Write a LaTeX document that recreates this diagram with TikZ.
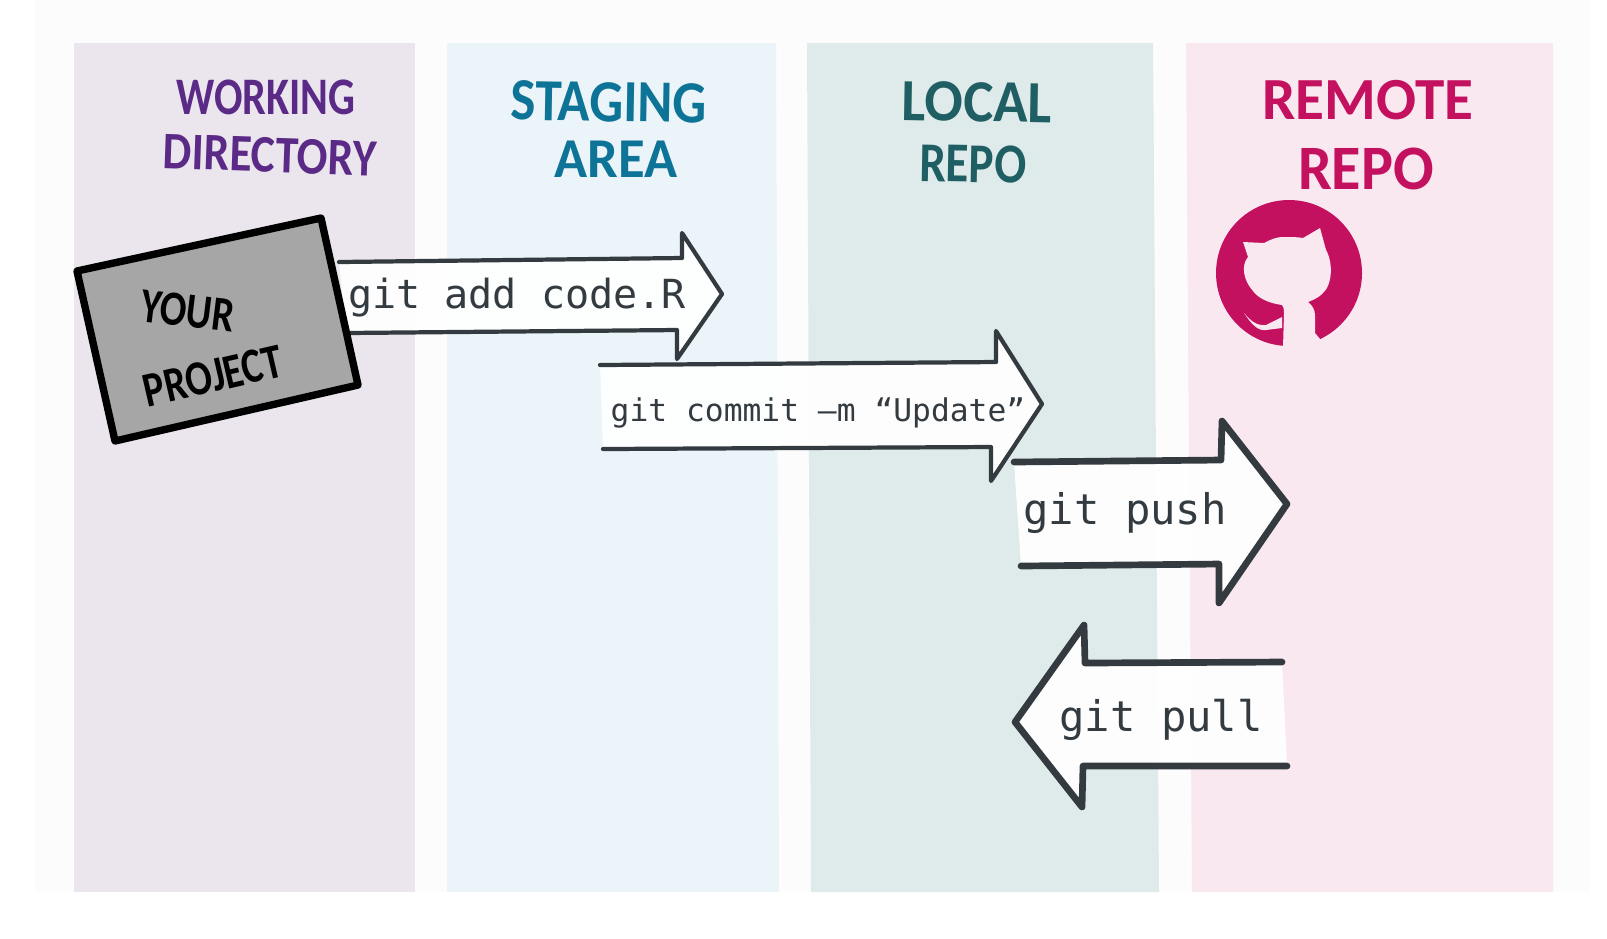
\documentclass[tikz,border=0pt]{standalone}
\usepackage{fontspec}
\setmonofont{DejaVu Sans Mono}
\newfontfamily\handfont{Carlito}
\usetikzlibrary{positioning}
\definecolor{paper}{HTML}{FCFCFC}
\definecolor{workingbg}{HTML}{EBE5EE}
\definecolor{stagingbg}{HTML}{EBF4F8}
\definecolor{localbg}{HTML}{DFEAEB}
\definecolor{remotebg}{HTML}{FAE8F0}
\definecolor{workingink}{HTML}{5B2A86}
\definecolor{stagingink}{HTML}{0E7497}
\definecolor{localink}{HTML}{1F5F63}
\definecolor{remoteink}{HTML}{C4115F}
\definecolor{arrowink}{HTML}{333B40}

\begin{document}
\begin{tikzpicture}[
  x=0.01cm, y=-0.01cm,
  hand/.style 2 args={font=\handfont\bfseries\addfontfeature{FakeStretch=#2}\fontsize{#1}{#1}\selectfont, inner sep=0pt},
  gitarrow/.style={draw=arrowink, fill=white, fill opacity=.95, line join=round, line cap=round, line width=1.2pt},
  gitarrowbig/.style={gitarrow, line width=1.9pt},
  cmd/.style={font=\ttfamily\fontsize{#1}{#1}\selectfont, text=arrowink, inner sep=0pt}
]
\useasboundingbox (0,0) rectangle (1607,938);
\fill[white] (0,0) rectangle (1607,938);
\fill[paper] (35,0) rectangle (1590,892);
\fill[workingbg] (74,43) rectangle (415,892);
\fill[stagingbg] (447,43) -- (776,43) -- (779,892) -- (447,892) -- cycle;
\fill[localbg] (807,43) -- (1153,43) -- (1159,892) -- (811,892) -- cycle;
\fill[remotebg] (1186,43) -- (1553,43) -- (1553,892) -- (1192,892) -- cycle;

\node[hand={15}{.8}, text=workingink] (workingTop) at (266,97) {WORKING};
\node[hand={15}{.865}, text=workingink, rotate=-2] (workingBottom) at (270,155) {DIRECTORY};
\node[hand={17}{.89}, text=stagingink, rotate=-1] (stagingTop) at (609,102) {STAGING};
\node[hand={16}{.97}, text=stagingink] (stagingBottom) at (616,159) {AREA};
\node[hand={17}{.95}, text=localink, rotate=-1] (localTop) at (977,102) {LOCAL};
\node[hand={16}{.84}, text=localink, rotate=-1] (localBottom) at (973,164) {REPO};
\node[hand={17}{.99}, text=remoteink] (remoteTop) at (1368,100) {REMOTE};
\node[hand={18}{.95}, text=remoteink] (remoteBottom) at (1366,169) {REPO};

\fill[remoteink] (1289,273) circle (73);
\fill[remotebg] (1243,242) -- (1264,243) .. controls (1272,239) and (1276,237) .. (1284,237)
  .. controls (1292,237) and (1298,237) .. (1303,238) -- (1320,228) -- (1326,250)
  .. controls (1333,262) and (1333,285) .. (1322,294) .. controls (1318,298) and (1313,300) .. (1308,302)
  .. controls (1313,306) and (1315,310) .. (1315,316) -- (1315,333) -- (1320,339) -- (1326,360) -- (1283,360)
  -- (1283,347) -- (1284,313) .. controls (1284,308) and (1283,306) .. (1282,305)
  .. controls (1268,303) and (1258,298) .. (1253,291) .. controls (1243,280) and (1241,265) .. (1248,257) -- cycle;
\fill[remotebg] (1244,313) .. controls (1250,320) and (1256,326) .. (1266,325) -- (1282,317) -- (1282,328)
  -- (1266,330) .. controls (1258,331) and (1252,325) .. cycle;

\filldraw[gitarrow] (339,262) -- (682,258) -- (682,233) -- (722,294) -- (677,359) -- (677,330) -- (346,333);
\filldraw[gitarrow] (600,365) -- (996,362) -- (996,331) -- (1042,404) -- (991,481) -- (991,447) -- (603,449);
\filldraw[gitarrowbig] (1014,462) -- (1221,460) -- (1222,421) -- (1287,504) -- (1219,603) -- (1219,564) -- (1021,566);
\filldraw[gitarrowbig] (1282,662) -- (1085,663) -- (1084,625) -- (1015,722) -- (1082,807) -- (1083,766) -- (1287,766);

\node[cmd=11.4] (gitAdd) at (517,298) {git add code.R};
\node[cmd=8.9] (gitCommit) at (818,413) {git commit –m “Update”};
\node[cmd=12] (gitPush) at (1125,513) {git push};
\node[cmd=12] (gitPull) at (1161,720) {git pull};

\filldraw[draw=black, fill=black!35, line width=2.1pt, line join=round] (77,271) -- (321,218) -- (358,385) -- (115,441) -- cycle;
\node[hand={14}{.8}, text=black, rotate=-7] (projectTop) at (188,311) {YOUR};
\node[hand={14}{.8}, text=black, rotate=13] (projectBottom) at (213,376) {PROJECT};
\end{tikzpicture}
\end{document}
